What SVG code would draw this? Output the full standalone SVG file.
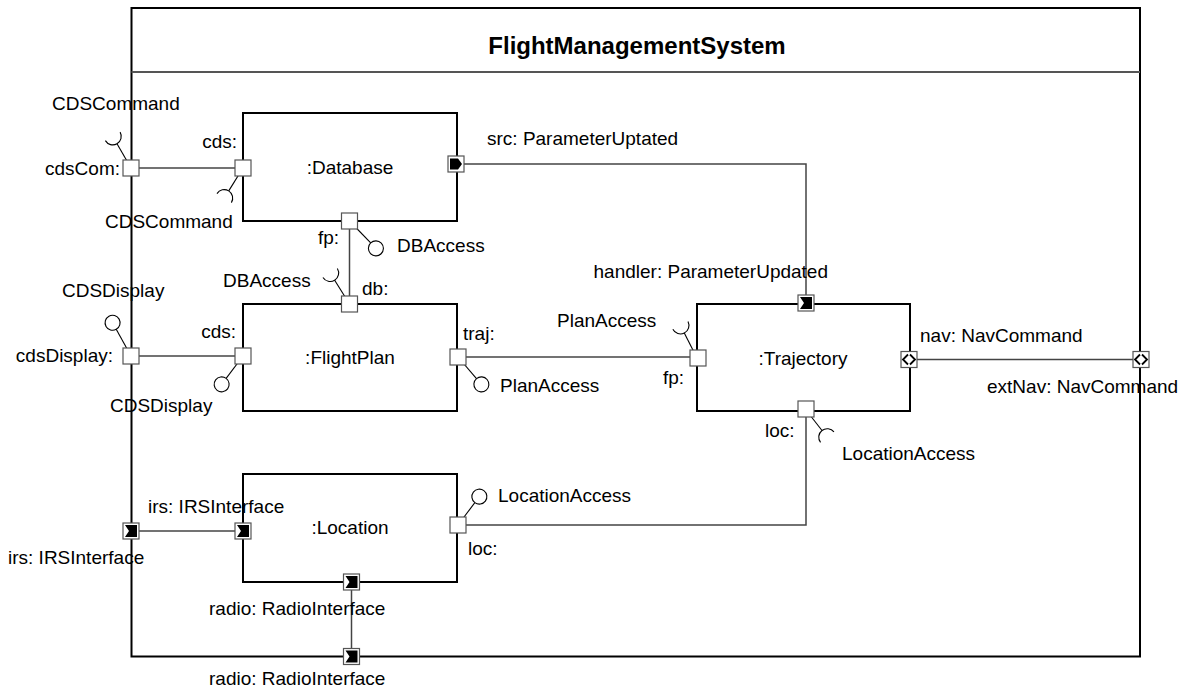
<svg xmlns="http://www.w3.org/2000/svg" width="1192" height="696" viewBox="0 0 1192 696">
<defs>
<style>
text{font-family:"Liberation Sans",Arial,sans-serif;font-size:19px;fill:#000}
.title{font-weight:bold;font-size:24px}
.box{fill:#fff;stroke:#000;stroke-width:2}
.frame{fill:#fff;stroke:#000;stroke-width:2}
.div{stroke:#555;stroke-width:2}
.con{fill:none;stroke:#444;stroke-width:1.5}
.port{fill:#fff;stroke:#555;stroke-width:1.2}
.stick{fill:none;stroke:#000;stroke-width:1.1}
.ball{fill:#fff;stroke:#000;stroke-width:1.1}
.icon{fill:#000}
.chev{fill:none;stroke:#000;stroke-width:1.8}
.m{text-anchor:middle}
.e{text-anchor:end}
</style>
<g id="pt"><rect class="port" x="-8" y="-8" width="16" height="16"/></g>
<g id="pt-send"><rect class="port" x="-8" y="-8" width="16" height="16"/><polygon class="icon" points="-6,-5.5 2,-5.5 6,0 2,5.5 -6,5.5"/></g>
<g id="pt-accept"><rect class="port" x="-8" y="-8" width="16" height="16"/><polygon class="icon" points="-6,-6 6,-6 6,6 -6,6 -2,0"/></g>
<g id="pt-bi"><rect class="port" x="-8" y="-8" width="16" height="16"/><polyline class="chev" points="-1,-5 -6,0 -1,5"/><polyline class="chev" points="1,-5 6,0 1,5"/></g>
</defs>
<rect width="1192" height="696" fill="#fff"/>

<g id="frame">
<rect class="frame" x="131.5" y="8" width="1008.5" height="648.5"/>
<line class="div" x1="131.5" y1="72" x2="1140" y2="72"/>
<text class="title m" x="637" y="54">FlightManagementSystem</text>
</g>

<g id="database">
<rect class="box" x="243" y="113" width="214" height="108"/>
<text class="m" x="350" y="174">:Database</text>
</g>
<g id="flightplan">
<rect class="box" x="243" y="304" width="214" height="107"/>
<text class="m" x="350" y="364">:FlightPlan</text>
</g>
<g id="trajectory">
<rect class="box" x="697" y="304" width="213" height="107"/>
<text class="m" x="803" y="365">:Trajectory</text>
</g>
<g id="location">
<rect class="box" x="243" y="474" width="214" height="108"/>
<text class="m" x="350" y="534">:Location</text>
</g>

<g id="connectors">
<line class="con" x1="131" y1="168" x2="243" y2="168"/>
<line class="con" x1="131" y1="356" x2="243" y2="356"/>
<line class="con" x1="349.5" y1="221" x2="349.5" y2="304"/>
<polyline class="con" points="456,164 806,164 806,303"/>
<line class="con" x1="458" y1="357" x2="697" y2="357"/>
<polyline class="con" points="806,410 806,525 458,525"/>
<line class="con" x1="909" y1="359.5" x2="1141" y2="359.5"/>
<line class="con" x1="131" y1="531" x2="243" y2="531"/>
<line class="con" x1="351.5" y1="582" x2="351.5" y2="656.5"/>
</g>

<g id="interfaces">
<g transform="translate(131,168) rotate(-120)"><line class="stick" x1="0" y1="0" x2="28" y2="0"/><path class="stick" d="M36.5,-8.5 A8.5 8.5 0 0 0 36.5,8.5"/></g>
<g transform="translate(243,168) rotate(122)"><line class="stick" x1="0" y1="0" x2="27" y2="0"/><path class="stick" d="M35.5,-8.5 A8.5 8.5 0 0 0 35.5,8.5"/></g>
<g transform="translate(349.5,221) rotate(46)"><line class="stick" x1="0" y1="0" x2="30.5" y2="0"/><circle class="ball" cx="38" cy="0" r="7.5"/></g>
<g transform="translate(349.5,304) rotate(-122)"><line class="stick" x1="0" y1="0" x2="28" y2="0"/><path class="stick" d="M36.5,-8.5 A8.5 8.5 0 0 0 36.5,8.5"/></g>
<g transform="translate(131,356) rotate(-119)"><line class="stick" x1="0" y1="0" x2="30.5" y2="0"/><circle class="ball" cx="38" cy="0" r="7.5"/></g>
<g transform="translate(243,356) rotate(127)"><line class="stick" x1="0" y1="0" x2="28" y2="0"/><circle class="ball" cx="35.5" cy="0" r="7.5"/></g>
<g transform="translate(458,357) rotate(49.5)"><line class="stick" x1="0" y1="0" x2="28.5" y2="0"/><circle class="ball" cx="36" cy="0" r="7.5"/></g>
<g transform="translate(697,358) rotate(-117)"><line class="stick" x1="0" y1="0" x2="28" y2="0"/><path class="stick" d="M36.5,-8.5 A8.5 8.5 0 0 0 36.5,8.5"/></g>
<g transform="translate(806,410) rotate(52)"><line class="stick" x1="0" y1="0" x2="26" y2="0"/><path class="stick" d="M34.5,-8.5 A8.5 8.5 0 0 0 34.5,8.5"/></g>
<g transform="translate(458,525) rotate(-53)"><line class="stick" x1="0" y1="0" x2="28" y2="0"/><circle class="ball" cx="35.5" cy="0" r="7.5"/></g>
</g>

<g id="ports">
<use href="#pt" x="131" y="168"/>
<use href="#pt" x="243" y="168"/>
<use href="#pt-send" x="456" y="164"/>
<use href="#pt" x="349.5" y="221"/>
<use href="#pt" x="349.5" y="304"/>
<use href="#pt" x="131" y="356"/>
<use href="#pt" x="243" y="356"/>
<use href="#pt" x="458" y="357"/>
<use href="#pt" x="698" y="358"/>
<use href="#pt-accept" x="806" y="303"/>
<use href="#pt-bi" x="909" y="359.5"/>
<use href="#pt-bi" x="1141" y="359.5"/>
<use href="#pt" x="806" y="409"/>
<use href="#pt" x="458" y="525"/>
<use href="#pt-accept" x="131" y="531"/>
<use href="#pt-accept" x="243" y="531"/>
<use href="#pt-accept" x="351.5" y="582"/>
<use href="#pt-accept" x="351.5" y="656.5"/>
</g>

<g id="labels">
<text x="52" y="110">CDSCommand</text>
<text class="e" x="120" y="175">cdsCom:</text>
<text class="e" x="237" y="148">cds:</text>
<text x="105" y="228">CDSCommand</text>
<text x="487" y="145">src: ParameterUptated</text>
<text class="e" x="339" y="244">fp:</text>
<text x="397" y="252">DBAccess</text>
<text x="223" y="287">DBAccess</text>
<text x="362" y="295">db:</text>
<text x="62" y="297">CDSDisplay</text>
<text class="e" x="113" y="362">cdsDisplay:</text>
<text class="e" x="236" y="338">cds:</text>
<text x="110" y="412">CDSDisplay</text>
<text x="463" y="340">traj:</text>
<text x="500" y="392">PlanAccess</text>
<text x="557" y="327">PlanAccess</text>
<text x="663" y="384">fp:</text>
<text class="e" x="828" y="278">handler: ParameterUpdated</text>
<text x="920" y="342">nav: NavCommand</text>
<text x="987" y="393">extNav: NavCommand</text>
<text x="765" y="437">loc:</text>
<text x="842" y="460">LocationAccess</text>
<text x="498" y="502">LocationAccess</text>
<text x="468" y="555">loc:</text>
<text x="148" y="513">irs: IRSInterface</text>
<text x="8" y="564">irs: IRSInterface</text>
<text x="209" y="615">radio: RadioInterface</text>
<text x="209" y="685">radio: RadioInterface</text>
</g>
</svg>
